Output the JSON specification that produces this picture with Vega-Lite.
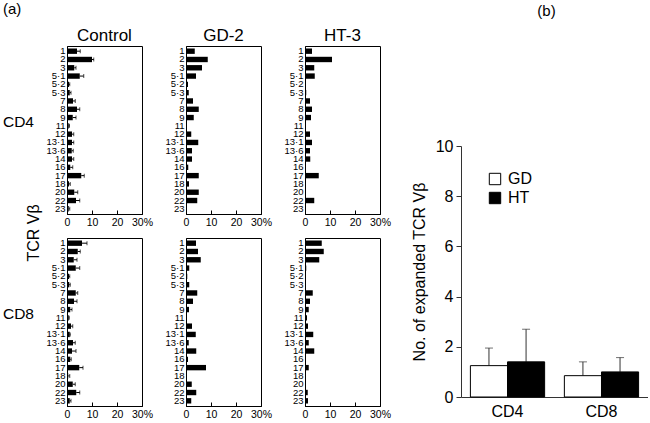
{
  "$schema": "https://vega.github.io/schema/vega-lite/v6.json",
  "background": "white",
  "padding": {"left": 2, "top": 2, "right": 0, "bottom": 0},
  "config": {
    "font": "Liberation Sans",
    "axis": {"domainColor": "black", "tickColor": "black", "labelColor": "black", "titleColor": "black", "grid": false, "titleFontWeight": "normal"},
    "axisX": {"labelOverlap": false, "labelFlush": false},
    "header": {"labelColor": "black", "titleColor": "black"},
    "title": {"color": "black", "fontWeight": "normal"},
    "legend": {"padding": 0}
  },
  "spacing": 19,
  "resolve": {"legend": {"fill": "independent"}},
  "hconcat": [
    {
      "data": {"values": [
        {"cell":"CD4","group":"Control","vb":"1","value":4.0,"hi":5.3},
        {"cell":"CD4","group":"Control","vb":"2","value":10.0,"hi":10.7},
        {"cell":"CD4","group":"Control","vb":"3","value":2.9,"hi":3.6},
        {"cell":"CD4","group":"Control","vb":"5·1","value":5.1,"hi":6.7},
        {"cell":"CD4","group":"Control","vb":"5·2","value":0.8,"hi":1.1},
        {"cell":"CD4","group":"Control","vb":"5·3","value":1.1,"hi":1.6},
        {"cell":"CD4","group":"Control","vb":"7","value":2.4,"hi":3.3},
        {"cell":"CD4","group":"Control","vb":"8","value":4.0,"hi":5.1},
        {"cell":"CD4","group":"Control","vb":"9","value":2.3,"hi":3.6},
        {"cell":"CD4","group":"Control","vb":"11","value":0.7,"hi":1.0},
        {"cell":"CD4","group":"Control","vb":"12","value":2.0,"hi":2.7},
        {"cell":"CD4","group":"Control","vb":"13·1","value":2.0,"hi":2.7},
        {"cell":"CD4","group":"Control","vb":"13·6","value":1.9,"hi":2.5},
        {"cell":"CD4","group":"Control","vb":"14","value":2.0,"hi":2.7},
        {"cell":"CD4","group":"Control","vb":"16","value":1.3,"hi":2.3},
        {"cell":"CD4","group":"Control","vb":"17","value":5.7,"hi":6.9},
        {"cell":"CD4","group":"Control","vb":"18","value":0.8,"hi":1.3},
        {"cell":"CD4","group":"Control","vb":"20","value":2.9,"hi":4.3},
        {"cell":"CD4","group":"Control","vb":"22","value":3.6,"hi":5.1},
        {"cell":"CD4","group":"Control","vb":"23","value":0.7,"hi":1.1},
        {"cell":"CD4","group":"GD-2","vb":"1","value":3.5},
        {"cell":"CD4","group":"GD-2","vb":"2","value":8.7},
        {"cell":"CD4","group":"GD-2","vb":"3","value":6.4},
        {"cell":"CD4","group":"GD-2","vb":"5·1","value":4.0},
        {"cell":"CD4","group":"GD-2","vb":"5·2","value":0.8},
        {"cell":"CD4","group":"GD-2","vb":"5·3","value":1.1},
        {"cell":"CD4","group":"GD-2","vb":"7","value":2.8},
        {"cell":"CD4","group":"GD-2","vb":"8","value":5.1},
        {"cell":"CD4","group":"GD-2","vb":"9","value":3.1},
        {"cell":"CD4","group":"GD-2","vb":"11","value":0.4},
        {"cell":"CD4","group":"GD-2","vb":"12","value":2.1},
        {"cell":"CD4","group":"GD-2","vb":"13·1","value":4.9},
        {"cell":"CD4","group":"GD-2","vb":"13·6","value":2.4},
        {"cell":"CD4","group":"GD-2","vb":"14","value":2.4},
        {"cell":"CD4","group":"GD-2","vb":"16","value":0.9},
        {"cell":"CD4","group":"GD-2","vb":"17","value":5.1},
        {"cell":"CD4","group":"GD-2","vb":"18","value":1.2},
        {"cell":"CD4","group":"GD-2","vb":"20","value":5.1},
        {"cell":"CD4","group":"GD-2","vb":"22","value":4.5},
        {"cell":"CD4","group":"GD-2","vb":"23","value":0.3},
        {"cell":"CD4","group":"HT-3","vb":"1","value":2.8},
        {"cell":"CD4","group":"HT-3","vb":"2","value":10.8},
        {"cell":"CD4","group":"HT-3","vb":"3","value":3.7},
        {"cell":"CD4","group":"HT-3","vb":"5·1","value":3.9},
        {"cell":"CD4","group":"HT-3","vb":"5·2","value":0.3},
        {"cell":"CD4","group":"HT-3","vb":"5·3","value":0.5},
        {"cell":"CD4","group":"HT-3","vb":"7","value":2.0},
        {"cell":"CD4","group":"HT-3","vb":"8","value":2.8},
        {"cell":"CD4","group":"HT-3","vb":"9","value":2.4},
        {"cell":"CD4","group":"HT-3","vb":"11","value":0.1},
        {"cell":"CD4","group":"HT-3","vb":"12","value":2.0},
        {"cell":"CD4","group":"HT-3","vb":"13·1","value":2.8},
        {"cell":"CD4","group":"HT-3","vb":"13·6","value":2.0},
        {"cell":"CD4","group":"HT-3","vb":"14","value":2.1},
        {"cell":"CD4","group":"HT-3","vb":"16","value":0.4},
        {"cell":"CD4","group":"HT-3","vb":"17","value":5.5},
        {"cell":"CD4","group":"HT-3","vb":"18","value":0.0},
        {"cell":"CD4","group":"HT-3","vb":"20","value":0.3},
        {"cell":"CD4","group":"HT-3","vb":"22","value":3.7},
        {"cell":"CD4","group":"HT-3","vb":"23","value":0.1},
        {"cell":"CD8","group":"Control","vb":"1","value":6.0,"hi":8.0},
        {"cell":"CD8","group":"Control","vb":"2","value":4.3,"hi":5.3},
        {"cell":"CD8","group":"Control","vb":"3","value":2.7,"hi":4.0},
        {"cell":"CD8","group":"Control","vb":"5·1","value":3.5,"hi":5.1},
        {"cell":"CD8","group":"Control","vb":"5·2","value":0.8,"hi":1.1},
        {"cell":"CD8","group":"Control","vb":"5·3","value":0.9,"hi":1.3},
        {"cell":"CD8","group":"Control","vb":"7","value":3.5,"hi":4.3},
        {"cell":"CD8","group":"Control","vb":"8","value":2.8,"hi":4.0},
        {"cell":"CD8","group":"Control","vb":"9","value":1.3,"hi":2.0},
        {"cell":"CD8","group":"Control","vb":"11","value":0.7,"hi":0.9},
        {"cell":"CD8","group":"Control","vb":"12","value":1.6,"hi":2.3},
        {"cell":"CD8","group":"Control","vb":"13·1","value":1.1,"hi":1.3},
        {"cell":"CD8","group":"Control","vb":"13·6","value":2.4,"hi":3.3},
        {"cell":"CD8","group":"Control","vb":"14","value":2.0,"hi":3.6},
        {"cell":"CD8","group":"Control","vb":"16","value":1.3,"hi":1.7},
        {"cell":"CD8","group":"Control","vb":"17","value":4.9,"hi":6.4},
        {"cell":"CD8","group":"Control","vb":"18","value":0.5,"hi":1.1},
        {"cell":"CD8","group":"Control","vb":"20","value":2.3,"hi":3.3},
        {"cell":"CD8","group":"Control","vb":"22","value":3.7,"hi":5.1},
        {"cell":"CD8","group":"Control","vb":"23","value":1.1,"hi":1.6},
        {"cell":"CD8","group":"GD-2","vb":"1","value":4.0},
        {"cell":"CD8","group":"GD-2","vb":"2","value":4.8},
        {"cell":"CD8","group":"GD-2","vb":"3","value":5.9},
        {"cell":"CD8","group":"GD-2","vb":"5·1","value":1.3},
        {"cell":"CD8","group":"GD-2","vb":"5·2","value":0.5},
        {"cell":"CD8","group":"GD-2","vb":"5·3","value":1.3},
        {"cell":"CD8","group":"GD-2","vb":"7","value":4.5},
        {"cell":"CD8","group":"GD-2","vb":"8","value":2.8},
        {"cell":"CD8","group":"GD-2","vb":"9","value":1.2},
        {"cell":"CD8","group":"GD-2","vb":"11","value":0.4},
        {"cell":"CD8","group":"GD-2","vb":"12","value":2.4},
        {"cell":"CD8","group":"GD-2","vb":"13·1","value":3.9},
        {"cell":"CD8","group":"GD-2","vb":"13·6","value":1.1},
        {"cell":"CD8","group":"GD-2","vb":"14","value":4.1},
        {"cell":"CD8","group":"GD-2","vb":"16","value":0.8},
        {"cell":"CD8","group":"GD-2","vb":"17","value":8.0},
        {"cell":"CD8","group":"GD-2","vb":"18","value":0.0},
        {"cell":"CD8","group":"GD-2","vb":"20","value":2.3},
        {"cell":"CD8","group":"GD-2","vb":"22","value":4.1},
        {"cell":"CD8","group":"GD-2","vb":"23","value":2.1},
        {"cell":"CD8","group":"HT-3","vb":"1","value":6.7},
        {"cell":"CD8","group":"HT-3","vb":"2","value":7.5},
        {"cell":"CD8","group":"HT-3","vb":"3","value":5.7},
        {"cell":"CD8","group":"HT-3","vb":"5·1","value":0.5},
        {"cell":"CD8","group":"HT-3","vb":"5·2","value":0.1},
        {"cell":"CD8","group":"HT-3","vb":"5·3","value":0.1},
        {"cell":"CD8","group":"HT-3","vb":"7","value":3.1},
        {"cell":"CD8","group":"HT-3","vb":"8","value":2.0},
        {"cell":"CD8","group":"HT-3","vb":"9","value":1.5},
        {"cell":"CD8","group":"HT-3","vb":"11","value":0.8},
        {"cell":"CD8","group":"HT-3","vb":"12","value":1.2},
        {"cell":"CD8","group":"HT-3","vb":"13·1","value":3.3},
        {"cell":"CD8","group":"HT-3","vb":"13·6","value":1.5},
        {"cell":"CD8","group":"HT-3","vb":"14","value":3.7},
        {"cell":"CD8","group":"HT-3","vb":"16","value":0.4},
        {"cell":"CD8","group":"HT-3","vb":"17","value":1.5},
        {"cell":"CD8","group":"HT-3","vb":"18","value":0.0},
        {"cell":"CD8","group":"HT-3","vb":"20","value":0.0},
        {"cell":"CD8","group":"HT-3","vb":"22","value":1.1},
        {"cell":"CD8","group":"HT-3","vb":"23","value":1.2}
      ]},
      "title": {"text": "(a)", "anchor": "start", "frame": "bounds", "fontSize": 15, "offset": 10},
      "facet": {
        "row": {"field": "cell", "type": "nominal", "sort": ["CD4", "CD8"], "title": "TCR Vβ",
          "header": {"labelAngle": 0, "labelFontSize": 15.5, "labelAlign": "right", "labelBaseline": "bottom", "labelPadding": 2, "titleFontSize": 16, "titleFontWeight": "normal", "titlePadding": -50}},
        "column": {"field": "group", "type": "nominal", "sort": ["Control", "GD-2", "HT-3"], "title": null,
          "header": {"labelFontSize": 17, "labelPadding": 1}}
      },
      "spacing": {"row": 24, "column": 44},
      "bounds": "flush",
      "resolve": {"axis": {"x": "independent", "y": "independent"}},
      "spec": {
        "width": 75,
        "height": 168,
        "view": {"stroke": "black", "strokeWidth": 1},
        "encoding": {
          "y": {"field": "vb", "type": "ordinal",
            "sort": ["1","2","3","5·1","5·2","5·3","7","8","9","11","12","13·1","13·6","14","16","17","18","20","22","23"],
            "scale": {"paddingInner": 0.35, "paddingOuter": 0.3},
            "axis": {"title": null, "ticks": false, "labelFontSize": 9.5, "labelPadding": 2, "labelOverlap": false, "domainColor": "black"}},
          "x": {"field": "value", "type": "quantitative", "scale": {"domain": [0, 30], "nice": false},
            "axis": {"title": null, "tickCount": 3, "labelExpr": "datum.value == 30 ? '30%' : datum.label", "labelOverlap": false, "labelFlush": false, "labelBound": false, "tickSize": -4, "labelPadding": 7, "labelFontSize": 10.5, "domainColor": "black"}}
        },
        "layer": [
          {"mark": {"type": "bar", "color": "black"}},
          {"transform": [{"filter": "isValid(datum.hi)"}],
           "mark": {"type": "rule", "color": "black", "strokeWidth": 1},
           "encoding": {"x2": {"field": "hi"}}},
          {"transform": [{"filter": "isValid(datum.hi)"}],
           "mark": {"type": "tick", "color": "black", "thickness": 1, "size": 4},
           "encoding": {"x": {"field": "hi", "type": "quantitative"}}}
        ]
      }
    },
    {
      "vconcat": [
        {
          "data": {"values": []},
          "title": {"text": "(b)", "fontSize": 15, "anchor": "middle", "dx": -8, "offset": 27},
          "width": 187,
          "height": 100,
          "view": {"stroke": null},
          "mark": {"type": "rule"},
          "encoding": {}
        },
        {
          "data": {"values": [
            {"cell": "CD4", "group": "GD", "value": 1.25, "hi": 1.95},
            {"cell": "CD4", "group": "HT", "value": 1.4, "hi": 2.7},
            {"cell": "CD8", "group": "GD", "value": 0.85, "hi": 1.4},
            {"cell": "CD8", "group": "HT", "value": 1.0, "hi": 1.57}
          ]},
          "width": 187,
          "height": 251,
          "view": {"stroke": null},
          "encoding": {
            "x": {"field": "cell", "type": "nominal", "scale": {"paddingInner": 0.21, "paddingOuter": 0.1},
              "axis": {"title": null, "labelAngle": 0, "ticks": false, "labelFontSize": 16, "labelPadding": 6, "domainColor": "#333"}},
            "xOffset": {"field": "group", "type": "nominal", "sort": ["GD", "HT"]}
          },
          "layer": [
            {"mark": {"type": "rule", "color": "#333", "strokeWidth": 1},
             "encoding": {"y": {"field": "value", "type": "quantitative"}, "y2": {"field": "hi"}}},
            {"mark": {"type": "tick", "color": "#333", "thickness": 1, "size": 8},
             "encoding": {"y": {"field": "hi", "type": "quantitative"}}},
            {"mark": {"type": "bar", "stroke": "black", "strokeWidth": 1},
             "encoding": {
               "y": {"field": "value", "type": "quantitative", "scale": {"domain": [0, 10]},
                 "axis": {"title": "No. of expanded TCR Vβ", "titleFontSize": 16, "titlePadding": 8, "values": [0,1,2,3,4,5,6,7,8,9,10], "labelExpr": "datum.value % 2 == 0 ? datum.label : ''", "labelFontSize": 16, "tickSize": 5, "labelPadding": 3, "domainColor": "#333", "tickColor": "#333"}},
               "fill": {"field": "group", "type": "nominal", "sort": ["GD", "HT"],
                 "scale": {"domain": ["GD", "HT"], "range": ["white", "black"]},
                 "legend": {"title": null, "orient": "none", "legendX": 26, "legendY": 25, "symbolType": "square", "symbolSize": 130, "symbolStrokeColor": "black", "symbolStrokeWidth": 1, "labelFontSize": 16, "rowPadding": 3, "labelOffset": 5}}
             }}
          ]
        }
      ],
      "spacing": 0,
      "bounds": "flush",
      "resolve": {"legend": {"fill": "independent"}}
    }
  ]
}
